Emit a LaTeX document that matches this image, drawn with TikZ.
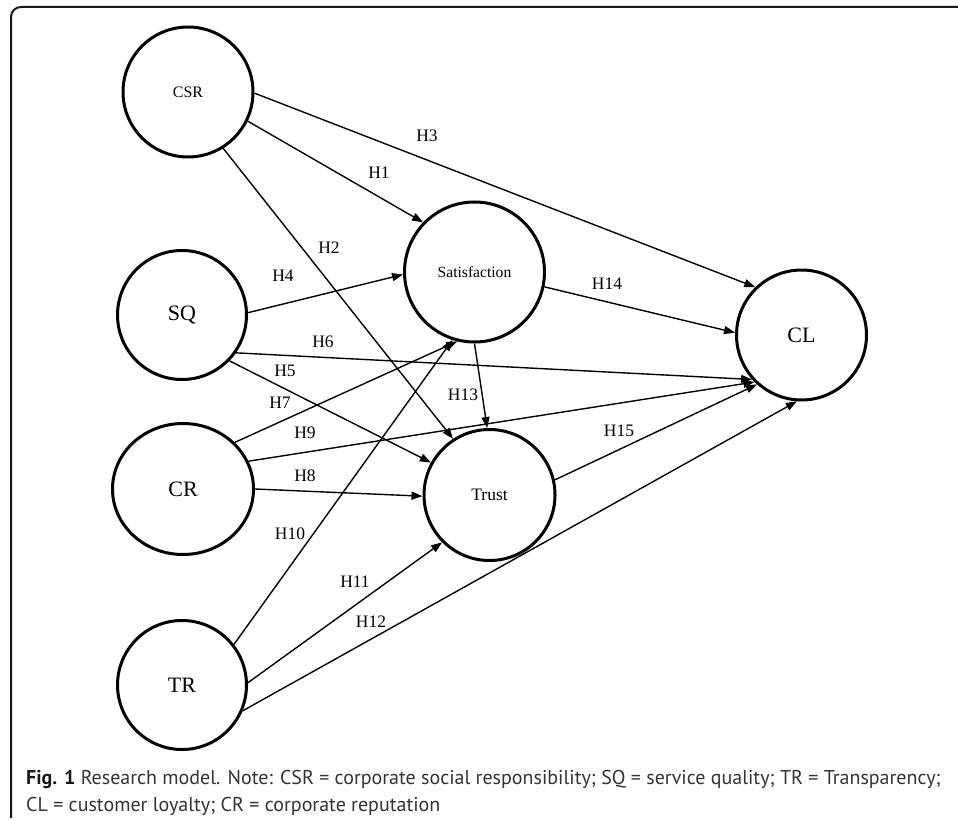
\documentclass[tikz,border=0pt]{standalone}
\usepackage{fontspec}
\setmainfont{Liberation Serif}
\newfontfamily\capfont{PT Sans}
\usetikzlibrary{arrows.meta,shapes.geometric}
\begin{document}
\begin{tikzpicture}[x=1pt,y=-1pt,
  lat/.style={circle,draw,line width=3pt,inner sep=0pt},
  latell/.style={ellipse,draw,line width=3pt,inner sep=0pt},
  bigtxt/.style={font=\fontsize{22}{24}\selectfont},
  hyp/.style={font=\fontsize{17.5}{20}\selectfont,inner sep=1pt},
  rel/.style={line width=1.4pt,-{Triangle[length=11pt,width=8pt]}},
  captxt/.style={font=\capfont\fontsize{20}{27}\selectfont,text=black!80,inner sep=0pt,anchor=base west},
  ]
\useasboundingbox (0,0) rectangle (958,821);
% frame
\draw[line width=2pt,black!90,rounded corners=10pt] (11,818) -- (11,7) -- (958,7);
% latent variables
\node[lat,minimum size=130pt,font=\fontsize{16}{18}\selectfont] (CSR) at (188,92) {CSR};
\node[lat,minimum size=129pt,bigtxt] (SQ) at (182,315) {SQ};
\node[latell,minimum width=141pt,minimum height=131pt,bigtxt] (CR) at (183,489) {CR};
\node[lat,minimum size=129pt,bigtxt] (TR) at (182,685) {TR};
\node[lat,minimum size=140pt,font=\fontsize{15.6}{18}\selectfont] (Sat) at (474.5,272) {Satisfaction};
\node[lat,minimum size=131pt,font=\fontsize{17.5}{20}\selectfont] (Trust) at (489.5,495) {Trust};
\node[lat,minimum size=130pt,bigtxt] (CL) at (801.5,335) {CL};
% paths
\draw[rel] (CSR.-1) -- (CL.134.7);
\draw[rel] (CSR.-26) -- (Sat.136);
\draw[rel] (CSR.-58) -- (Trust.123);
\draw[rel] (SQ.2) -- (Sat.182);
\draw[rel] (SQ.-35) -- (CL.222);
\draw[rel] (SQ.-44) -- (Trust.151);
\draw[rel] (Sat.270) -- (Trust.92);
\draw[rel] (Sat.-12) -- (CL.178);
\draw[rel] (CR.42) -- (Sat.256);
\draw[rel] (CR.23) -- (CL.225);
\draw[rel] (CR.0) -- (Trust.181);
\draw[rel] (TR.38) -- (Sat.252);
\draw[rel] (TR.2) -- (Trust.225);
\draw[rel] (TR.-23) -- (CL.266);
\draw[rel] (Trust.13) -- (CL.228);
% hypothesis labels
\node[hyp] (lH1) at (379,173) {H1};
\node[hyp] (lH2) at (329,248) {H2};
\node[hyp] (lH3) at (427,136) {H3};
\node[hyp] (lH4) at (283,276) {H4};
\node[hyp] (lH5) at (285,371) {H5};
\node[hyp] (lH6) at (323,342) {H6};
\node[hyp] (lH7) at (280,403) {H7};
\node[hyp] (lH8) at (305,476) {H8};
\node[hyp] (lH9) at (305,433) {H9};
\node[hyp] (lH10) at (290,534) {H10};
\node[hyp] (lH11) at (355,582) {H11};
\node[hyp] (lH12) at (371,622) {H12};
\node[hyp] (lH13) at (463,395) {H13};
\node[hyp] (lH14) at (607,284) {H14};
\node[hyp] (lH15) at (619,431) {H15};
% caption
\node[captxt] (cap1) at (26,784) {\textbf{\color{black!90}Fig. 1} Research model. Note: CSR = corporate social responsibility; SQ = service quality; TR = Transparency;};
\node[captxt] (cap2) at (26,811) {CL = customer loyalty; CR = corporate reputation};
\end{tikzpicture}
\end{document}
